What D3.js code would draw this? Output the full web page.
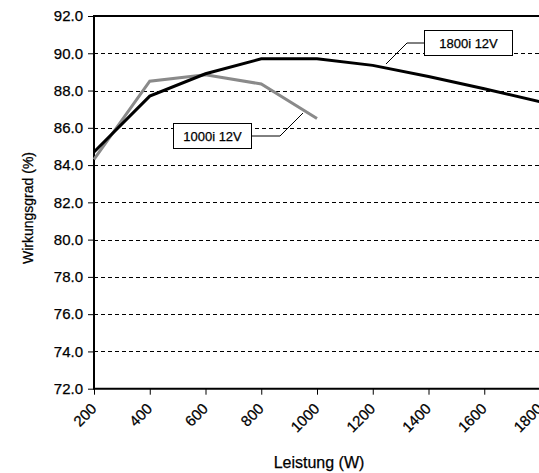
<!DOCTYPE html>
<html lang="de">
<head>
<meta charset="utf-8">
<title>Wirkungsgrad</title>
<script src="https://cdn.jsdelivr.net/npm/d3@7"></script>
<style>
  body { margin: 0; background: #fff; }
  text { font-family: "Liberation Sans", Arial, sans-serif; fill: #000; stroke: #000; stroke-width: 0.25px; }
</style>
</head>
<body>
<script>
// Leistung (W)
var leistung = [200, 400, 600, 800, 1000, 1200, 1400, 1600, 1800];
// Wirkungsgrad (%) je Gerät
var eff1800 = [84.7, 87.7, 88.9, 89.7, 89.7, 89.35, 88.75, 88.1, 87.4];
var eff1000 = [84.3, 88.5, 88.85, 88.35, 86.5];
var yTicks = [72, 74, 76, 78, 80, 82, 84, 86, 88, 90, 92];

var width = 539, height = 473;
var mLeft = 94, mTop = 16, mBottom = 388.7, mRight = 540;

var svg = d3.select('body').append('svg')
  .attr('width', width)
  .attr('height', height);

var x = d3.scaleLinear().domain([200, 1800]).range([mLeft, mRight]);
var y = d3.scaleLinear().domain([72, 92]).range([mBottom, mTop]);

// gestrichelte Gitterlinien
svg.append('g').selectAll('line')
  .data(yTicks.slice(1, -1))
  .enter().append('line')
  .attr('x1', mLeft).attr('x2', width)
  .attr('y1', d => Math.round(y(d)) + 0.5).attr('y2', d => Math.round(y(d)) + 0.5)
  .attr('stroke', '#000')
  .attr('stroke-width', 1)
  .attr('stroke-dasharray', '4,3');

// Achsen
var yAxis = d3.axisLeft(y).tickValues(yTicks).tickFormat(d3.format('.1f')).tickSize(6).tickPadding(5);
var gy = svg.append('g').attr('transform', 'translate(' + mLeft + ',0)').call(yAxis);
gy.select('.domain').remove();
gy.selectAll('line').attr('stroke', '#000');
gy.selectAll('text').style('font-size', '15px').attr('fill', '#000');

var xAxis = d3.axisBottom(x).tickValues(leistung).tickFormat(d3.format('d')).tickSize(6);
var gx = svg.append('g').attr('transform', 'translate(0,' + mBottom + ')').call(xAxis);
gx.select('.domain').remove();
gx.selectAll('line').attr('stroke', '#000');
gx.selectAll('text')
  .style('font-size', '15px')
  .attr('fill', '#000')
  .attr('text-anchor', 'end')
  .attr('dy', 0)
  .attr('y', 0)
  .attr('transform', 'translate(3,21) rotate(-45)');

// Rahmen
svg.append('path')
  .attr('d', 'M' + width + ',' + mTop + 'H' + mLeft + 'V' + mBottom + 'H' + width)
  .attr('fill', 'none')
  .attr('stroke', '#000')
  .attr('stroke-width', 2);

var line = d3.line().x(d => x(d[0])).y(d => y(d[1]));

svg.append('path')
  .datum(eff1000.map((v, i) => [leistung[i], v]))
  .attr('d', line)
  .attr('fill', 'none')
  .attr('stroke', '#8a8a8a')
  .attr('stroke-width', 3);

svg.append('path')
  .datum(eff1800.map((v, i) => [leistung[i], v]))
  .attr('d', line)
  .attr('fill', 'none')
  .attr('stroke', '#000')
  .attr('stroke-width', 3);

// Beschriftungen
function label(txt, bx, by, bw, bh, pts) {
  svg.append('polyline')
    .attr('points', pts.map(p => p.join(',')).join(' '))
    .attr('fill', 'none').attr('stroke', '#000').attr('stroke-width', 1);
  svg.append('rect')
    .attr('x', bx).attr('y', by).attr('width', bw).attr('height', bh)
    .attr('fill', '#fff').attr('stroke', '#000').attr('stroke-width', 1);
  svg.append('text')
    .attr('x', bx + bw / 2).attr('y', by + bh / 2 + 5)
    .attr('text-anchor', 'middle')
    .style('font-size', '13px')
    .text(txt);
}
label('1000i 12V', 173.5, 123.5, 78, 25, [[252, 136], [280, 136], [303, 113]]);
label('1800i 12V', 424.5, 30.5, 88, 25, [[424, 43], [407, 43], [386, 64]]);

// Achsentitel
svg.append('text')
  .attr('transform', 'translate(33,208) rotate(-90)')
  .attr('text-anchor', 'middle')
  .style('font-size', '14px')
  .text('Wirkungsgrad (%)');

svg.append('text')
  .attr('x', 319).attr('y', 468)
  .attr('text-anchor', 'middle')
  .style('font-size', '16px')
  .text('Leistung (W)');
</script>
</body>
</html>
